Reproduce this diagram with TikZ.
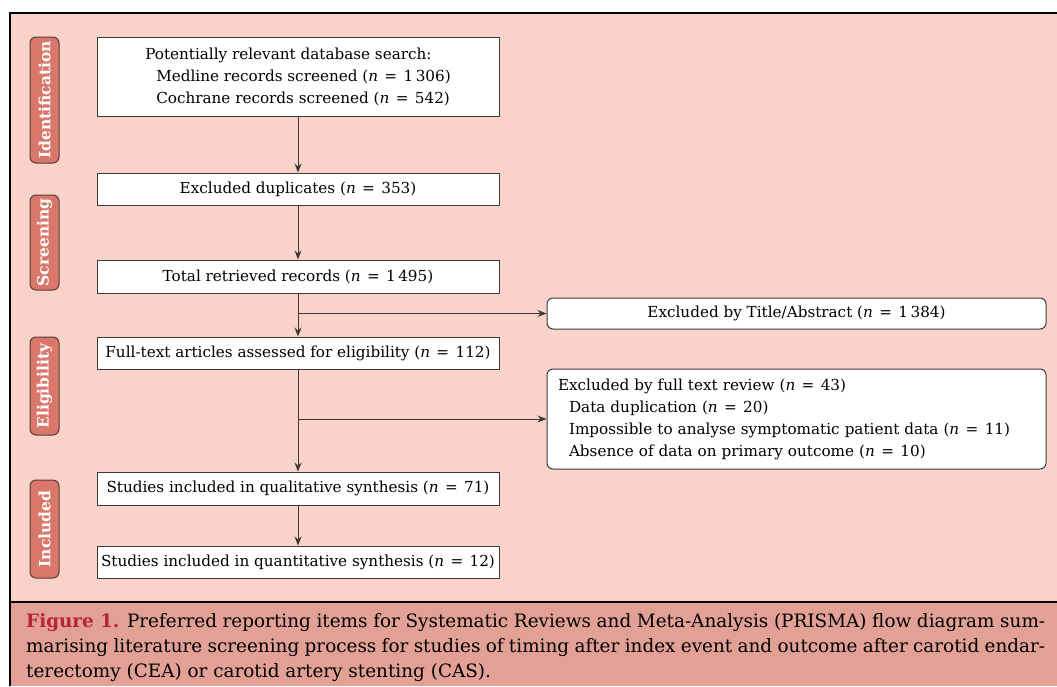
\documentclass[tikz,border=0pt]{standalone}
\usepackage{fontspec}
\setmainfont{DejaVu Serif}
\usetikzlibrary{arrows.meta}
\definecolor{bgpink}{HTML}{F9D3CA}
\definecolor{cappink}{HTML}{E3A195}
\definecolor{phasefill}{HTML}{D9776B}
\definecolor{phaseedge}{HTML}{5A3A36}
\definecolor{boxedge}{HTML}{3A3A3A}
\definecolor{figred}{HTML}{B8233A}
\newcommand{\nval}[1]{(\textit{n}\hspace{0.42em}=\hspace{0.42em}#1)}
\tikzset{
  mainbox/.style={draw=boxedge, line width=1pt, fill=white, minimum width=402pt, inner sep=0pt, font=\fontsize{15.2}{22}\selectfont},
  sidebox/.style={draw=boxedge, line width=1pt, fill=white, rounded corners=6pt, minimum width=499pt, inner sep=0pt, font=\fontsize{15.2}{22}\selectfont},
  phase/.style={draw=phaseedge, line width=1pt, fill=phasefill, rounded corners=6pt, rotate=90, minimum height=29pt, inner sep=0pt, text=white, font=\fontsize{15.5}{18}\selectfont\bfseries},
  flow/.style={draw=boxedge, line width=1pt, -{Stealth[length=9pt,width=7pt]}},
}
\begin{document}
\begin{tikzpicture}[x=1pt,y=-1pt]
\useasboundingbox (0,0) rectangle (1057,686);
\fill[bgpink] (10,13) rectangle (1057,602);
\fill[cappink] (10,602) rectangle (1057,686);
\draw[line width=1.3pt] (1057,13) -- (10,13) -- (10,686);
\draw[line width=1.3pt] (10,602) -- (1057,602);

\node[phase, minimum width=126pt] (pid) at (44.5,100) {Identification};
\node[phase, minimum width=95pt] (psc) at (44.5,242.5) {Screening};
\node[phase, minimum width=98pt] (pel) at (44.5,386) {Eligibility};
\node[phase, minimum width=98pt] (pin) at (44.5,529) {Included};

\node[mainbox, minimum height=79pt, align=left] (b1) at (298,76.5) {Potentially relevant database search:\\
\hspace*{11pt}Medline records screened \nval{1\,306}\\
\hspace*{11pt}Cochrane records screened \nval{542}};
\node[mainbox, minimum height=32pt] (b2) at (298,189) {Excluded duplicates \nval{353}};
\node[mainbox, minimum height=33pt] (b3) at (298,276.5) {Total retrieved records \nval{1\,495}};
\node[mainbox, minimum height=32pt] (b4) at (298,353) {Full-text articles assessed for eligibility \nval{112}};
\node[mainbox, minimum height=33pt] (b5) at (298,488.5) {Studies included in qualitative synthesis \nval{71}};
\node[mainbox, minimum height=32pt] (b6) at (298,562) {Studies included in quantitative synthesis \nval{12}};

\node[sidebox, minimum height=31pt] (e1) at (796.5,313.5) {Excluded by Title/Abstract \nval{1\,384}};
\node[sidebox, minimum height=100pt, text width=477pt, align=left] (e2) at (796.5,419) {%
Excluded by full text review \nval{43}\\
\hspace*{11pt}Data duplication \nval{20}\\
\hspace*{11pt}Impossible to analyse symptomatic patient data \nval{11}\\
\hspace*{11pt}Absence of data on primary outcome \nval{10}};

\draw[flow] (b1) -- (b2);
\draw[flow] (b2) -- (b3);
\draw[flow] (b3) -- (b4);
\draw[flow] (b4) -- (b5);
\draw[flow] (b5) -- (b6);
\coordinate (j1) at (b3.south |- e1.west);
\coordinate (j2) at (b4.south |- e2.west);
\draw[flow] (j1) -- (e1.west);
\draw[flow] (j2) -- (e2.west);

\node[anchor=north west, inner sep=0pt, align=left, font=\fontsize{18.4}{25}\selectfont] (cap) at (26,613) {%
\makebox[1019pt][s]{{\color{figred}\bfseries Figure 1.} Preferred reporting items for Systematic Reviews and Meta-Analysis (PRISMA) flow diagram sum-}\\
\makebox[1019pt][s]{marising literature screening process for studies of timing after index event and outcome after carotid endar-}\\
terectomy (CEA) or carotid artery stenting (CAS).};
\end{tikzpicture}
\end{document}
